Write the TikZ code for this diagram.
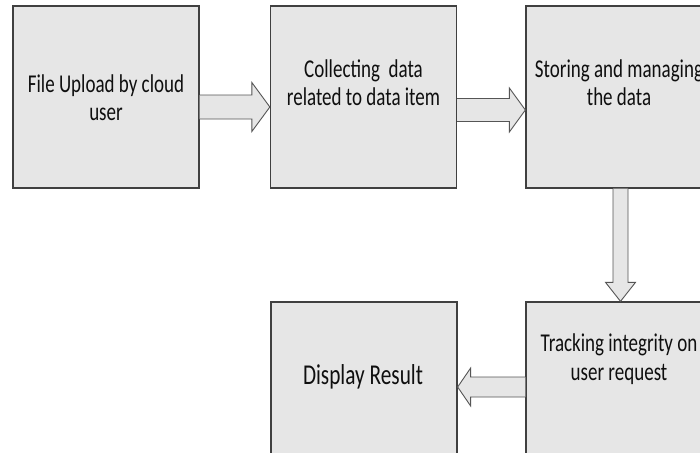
\documentclass[tikz,border=0pt]{standalone}
\usepackage{fontspec}
\setmainfont{Carlito}
\usetikzlibrary{calc}
\definecolor{boxfill}{RGB}{230,230,230}
\definecolor{boxline}{RGB}{64,64,64}
\definecolor{arrline}{RGB}{85,85,85}
\definecolor{ink}{RGB}{15,15,15}
\tikzset{
  stage/.style={draw=boxline, line width=1.3pt, fill=boxfill, rectangle,
    minimum width=186pt, minimum height=182pt, inner sep=0pt},
  txt/.style={font=\fontsize{19}{21}\selectfont, text=ink, align=center,
    inner sep=0pt, transform shape, yscale=1.35},
  bigtxt/.style={txt, font=\fontsize{21.3}{24}\selectfont},
  blk/.style={draw=arrline, line width=0.9pt, fill=boxfill, line join=miter},
}
\begin{document}
\begin{tikzpicture}[x=1pt,y=1pt]
  \clip (0,0) rectangle (700,-452);
  \fill[white] (0,0) rectangle (700,-452);

  % process stages
  \node[stage] (b1) at (106,-97) {};
  \node[stage] (b2) at (363.5,-97) {};
  \node[stage] (b3) at (619,-97) {};
  \node[stage] (b4) at (619,-393) {};
  \node[stage] (b5) at (364,-393) {};

  % stage captions
  \node[txt] (t1) at (106,-98) {File Upload by cloud\\user};
  \node[txt] (t2) at (363.5,-83) {Collecting\ \ data\\related to data item};
  \node[txt] (t3) at (619,-83) {Storing and managing\\the data};
  \node[txt] (t4) at (619,-359) {Tracking integrity on\\user request};
  \node[bigtxt] (t5) at (363,-377) {Display Result};

  % block arrows between stages
  \coordinate (p1) at ($(b1.east)+(0,-10)$);
  \coordinate (q1) at ($(b2.west)+(0,-10)$);
  \filldraw[blk] ($(p1)+(0,12)$) -- ($(q1)+(-18,12)$) -- ($(q1)+(-18,24.5)$)
    -- (q1) -- ($(q1)+(-18,-24.5)$) -- ($(q1)+(-18,-12)$) -- ($(p1)+(0,-12)$);

  \coordinate (p2) at ($(b2.east)+(0,-13)$);
  \coordinate (q2) at ($(b3.west)+(0,-13)$);
  \filldraw[blk] ($(p2)+(0,11.5)$) -- ($(q2)+(-16,11.5)$) -- ($(q2)+(-16,22)$)
    -- (q2) -- ($(q2)+(-16,-22)$) -- ($(q2)+(-16,-11.5)$) -- ($(p2)+(0,-11.5)$);

  \coordinate (p3) at ($(b3.south)+(1.5,0)$);
  \coordinate (q3) at ($(b4.north)+(1.5,0)$);
  \filldraw[blk] ($(p3)+(-7.5,0)$) -- ($(q3)+(-7.5,19)$) -- ($(q3)+(-15,19)$)
    -- (q3) -- ($(q3)+(15,19)$) -- ($(q3)+(7.5,19)$) -- ($(p3)+(7.5,0)$);

  \coordinate (p4) at ($(b4.west)+(0,6)$);
  \coordinate (q4) at ($(b5.east)+(0,6)$);
  \filldraw[blk] ($(p4)+(0,10)$) -- ($(q4)+(13,10)$) -- ($(q4)+(13,19)$)
    -- (q4) -- ($(q4)+(13,-19)$) -- ($(q4)+(13,-10)$) -- ($(p4)+(0,-10)$);
\end{tikzpicture}
\end{document}
